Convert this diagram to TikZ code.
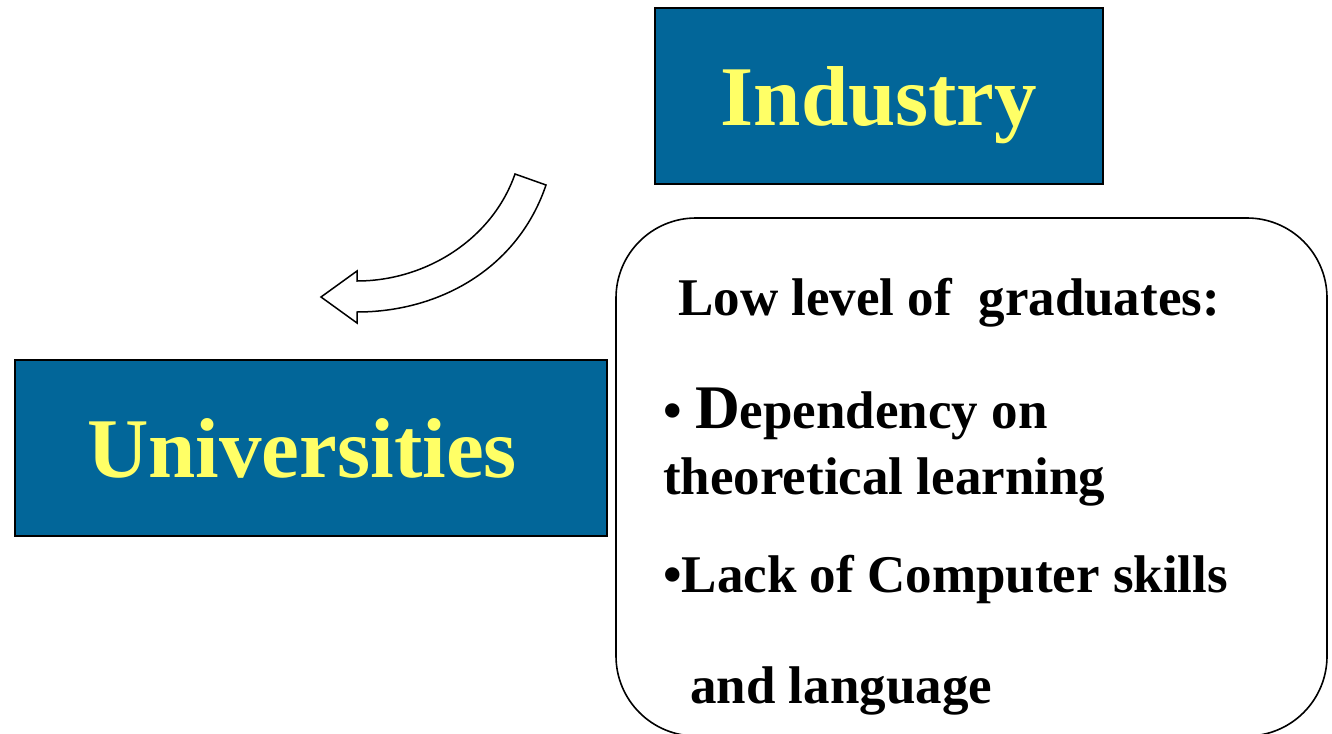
\documentclass[tikz,border=0pt]{standalone}
\usepackage{fontspec}
\setmainfont{Liberation Serif}
\usepackage{tikz}
\usepackage{xcolor}
\usetikzlibrary{positioning}
\definecolor{boxblue}{RGB}{2,102,153}
\definecolor{boxyellow}{RGB}{255,255,102}

\begin{document}
\begin{tikzpicture}[
  x=1pt, y=-1pt,
  titlebox/.style={rectangle, draw=black, line width=2pt, fill=boxblue, text=boxyellow,
              minimum height=176pt, inner sep=0pt, text depth=0pt,
              font=\fontsize{85}{85}\selectfont\bfseries},
  notebox/.style={rectangle, draw=black, line width=1.6pt, rounded corners=80pt,
              minimum width=711pt, minimum height=518pt},
  item/.style={anchor=base west, inner sep=0pt, font=\fontsize{53}{53}\selectfont\bfseries},
  blockarrow/.style={draw=black, fill=white, line width=1.5pt, line join=miter}
]
\useasboundingbox (0,0) rectangle (1332,733);

\node[titlebox, minimum width=448pt] (industry) at (879,96) {Industry};
\node[titlebox, minimum width=592pt] (univ) at (311,448) {Universities\kern18pt};
\node[notebox] (issues) at (971.5,477) {};

% text inside the rounded box
\node[item] (low) at (678,315) {Low level of\ \ graduates:};
\node[item] (dep) at (663,428) {\textbullet\ {\fontsize{62}{62}\selectfont D}ependency on};
\node[item] (theo) at (663,494) {theoretical learning};
\node[item] (lack) at (663,592) {\textbullet Lack of Computer skills};
\node[item] (lang) at (690,703) {and language};

% curved block arrow from industry towards universities
\coordinate (tin) at (515,174);
\coordinate (tout) at (546,185);
\draw[blockarrow] (tin) .. controls (492,240) and (425,281) .. (357,281)
  -- (357,271) -- (321,297) -- (357,323) -- (357,312)
  .. controls (440,312) and (518,268) .. (tout) -- cycle;
\end{tikzpicture}
\end{document}
